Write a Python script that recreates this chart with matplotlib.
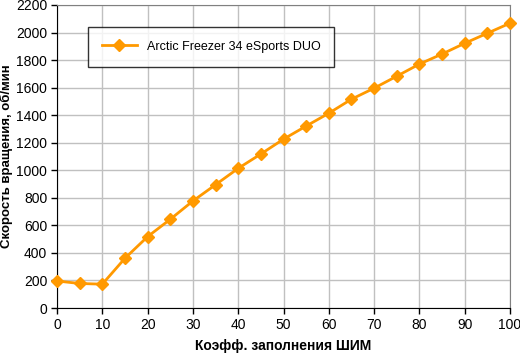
import matplotlib
matplotlib.use("Agg")
import matplotlib.pyplot as plt

plt.rcParams["font.family"] = ["Liberation Sans", "DejaVu Sans"]

duty = [0, 5, 10, 15, 20, 25, 30, 35, 40, 45, 50, 55, 60, 65, 70, 75, 80, 85, 90, 95, 100]
rpm = [196, 178, 173, 361, 518, 644, 777, 895, 1014, 1118, 1226, 1321, 1414, 1516, 1596, 1683, 1771, 1844, 1922, 1995, 2068]
series_name = "Arctic Freezer 34 eSports DUO"
xticks = list(range(0, 101, 10))
yticks = list(range(0, 2201, 200))

fig = plt.figure(figsize=(5.2, 3.55), dpi=100)
ax = fig.add_axes([57 / 520, 47 / 355, 453 / 520, 303 / 355])

ax.plot(duty, rpm, color="#FF9900", linewidth=2, marker="D", markersize=6.5,
        label=series_name, zorder=3, clip_on=False)

ax.set_xlim(0, 100)
ax.set_ylim(0, 2200)
ax.set_xticks(xticks)
ax.set_yticks(yticks)
ax.grid(True, color="#c0c0c0", linewidth=1)
ax.set_axisbelow(True)

for side in ("top", "right"):
    ax.spines[side].set_color("#808080")
for side in ("left", "bottom"):
    ax.spines[side].set_color("black")
ax.tick_params(direction="out", length=4, width=1, labelsize=10, colors="black", pad=3)

ax.set_xlabel("Коэфф. заполнения ШИМ", fontsize=10, fontweight="bold", labelpad=5)
ax.set_ylabel("Скорость вращения, об/мин", fontsize=9.5, fontweight="bold", labelpad=2)

leg = ax.legend(loc="upper left", bbox_to_anchor=(31 / 453, 1 - 22 / 303), fontsize=9,
                frameon=True, fancybox=False, edgecolor="black", borderpad=1.1,
                handlelength=2.8, borderaxespad=0)
leg.get_frame().set_linewidth(1)

fig.savefig("out.png", dpi=100)
